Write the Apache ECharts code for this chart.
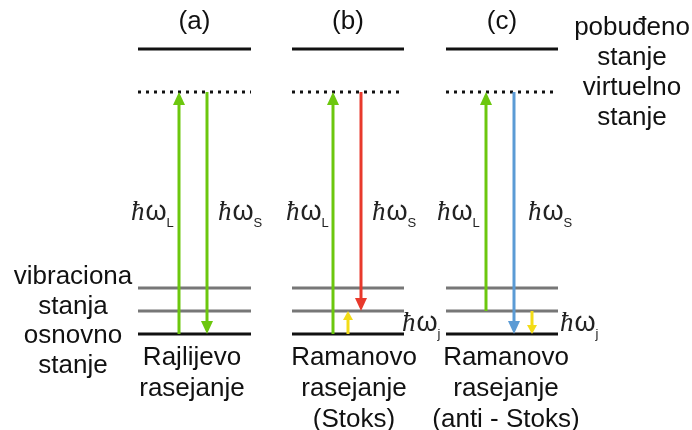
<!DOCTYPE html>
<html><head><meta charset="utf-8">
<script src="https://cdn.jsdelivr.net/npm/echarts@6/dist/echarts.min.js"></script>
<style>html,body{margin:0;padding:0;background:#fff}#c{width:692px;height:430px}</style>
</head><body><div id="c"></div>
<script>
// ---------- data ----------
const panelTitles = ['(a)', '(b)', '(c)'];
const panelCaptions = ['Rajlijevo\nrasejanje', 'Ramanovo\nrasejanje\n(Stoks)', 'Ramanovo\nrasejanje\n(anti - Stoks)'];
const panelStart = [138, 292, 446];
const panelEnd = [251, 404, 558];
const captionX = [192, 354, 506];
// energy levels (diagram units, top = 0)
const levelNames = ['excited', 'virtual', 'vib2', 'vib1', 'ground'];
const levelY = [49, 92, 288, 311, 334];
const levelKind = ['solid', 'dotted', 'gray', 'gray', 'solid'];
// transitions
const arrowX = [179, 207, 333, 361, 348, 486, 514, 532];
const arrowFrom = [334, 92, 334, 92, 334, 311, 92, 311];
const arrowTo = [92, 334, 92, 311, 311, 92, 334, 334];
const arrowColor = ['green', 'green', 'green', 'red', 'yellow', 'green', 'blue', 'yellow'];
const arrowSize = ['big', 'big', 'big', 'big', 'small', 'big', 'big', 'small'];
// photon labels
const photonSub = ['L', 'S', 'L', 'S', 'L', 'S', 'j', 'j'];
const photonX = [131, 218, 286, 372, 437, 528, 402, 560];
const photonY = [211, 211, 211, 211, 211, 211, 322, 322];
// side labels
const rightLabels = ['pobuđeno', 'stanje', 'virtuelno', 'stanje'];
const leftLabels = ['vibraciona', 'stanja', 'osnovno', 'stanje'];

// ---------- styles ----------
const colors = { green: '#6cc70e', red: '#e8392c', yellow: '#f3dc17', blue: '#5b9bd5' };
const FONT = 'Liberation Sans, Arial, sans-serif';

const levelData = [];
panelStart.forEach((x0, p) => {
  levelY.forEach((y, i) => levelData.push([x0, panelEnd[p], y, i]));
});
const arrowData = arrowX.map((x, i) => [x, arrowFrom[i], arrowTo[i], i]);

const textData = [];
panelTitles.forEach((t, p) => textData.push([(panelStart[p] + panelEnd[p]) / 2, 22, t, 'title']));
panelCaptions.forEach((t, p) => textData.push([captionX[p], 342, t, 'caption']));
rightLabels.forEach((t, i) => textData.push([632, 28 + i * 30, t, 'side']));
leftLabels.forEach((t, i) => textData.push([73, 277 + i * 29.5, t, 'side']));

const chart = echarts.init(document.getElementById('c'), null, { renderer: 'canvas' });
chart.setOption({
  animation: false,
  backgroundColor: '#fff',
  grid: { left: 0, right: 0, top: 0, bottom: 0 },
  xAxis: { type: 'value', min: 0, max: 692, show: false },
  yAxis: { type: 'value', min: 0, max: 430, inverse: true, show: false },
  series: [
    {
      type: 'custom', data: levelData, silent: true,
      renderItem: (params, api) => {
        const a = api.coord([api.value(0), api.value(2)]);
        const b = api.coord([api.value(1), api.value(2)]);
        const k = levelKind[api.value(3)];
        const style = k === 'dotted'
          ? { stroke: '#111', lineWidth: 3, lineDash: [3, 5] }
          : { stroke: k === 'gray' ? '#777' : '#111', lineWidth: 3 };
        return { type: 'line', shape: { x1: a[0], y1: a[1], x2: b[0], y2: b[1] }, style };
      }
    },
    {
      type: 'custom', data: arrowData, silent: true, z: 3,
      renderItem: (params, api) => {
        const i = api.value(3);
        const s = api.coord([api.value(0), api.value(1)]);
        const e = api.coord([api.value(0), api.value(2)]);
        const big = arrowSize[i] === 'big';
        const hw = big ? 6 : 5, hl = big ? 13 : 9;
        const dir = e[1] > s[1] ? 1 : -1;
        const baseY = e[1] - dir * hl;
        const c = colors[arrowColor[i]];
        return {
          type: 'group', children: [
            { type: 'line', shape: { x1: s[0], y1: s[1], x2: e[0], y2: baseY + dir * 2 }, style: { stroke: c, lineWidth: 3 } },
            { type: 'polygon', shape: { points: [[e[0], e[1]], [e[0] - hw, baseY], [e[0] + hw, baseY]] }, style: { fill: c } }
          ]
        };
      }
    },
    {
      type: 'custom', data: photonSub.map((s, i) => [photonX[i], photonY[i], s]), silent: true, z: 4,
      renderItem: (params, api) => {
        const p = api.coord([api.value(0), api.value(1)]);
        return {
          type: 'text', x: p[0], y: p[1],
          style: {
            text: '{h|ħ}{w|ω}{s|' + api.value(2) + '}',
            verticalAlign: 'middle', align: 'left',
            rich: {
              h: { fontFamily: 'Liberation Serif, DejaVu Serif, serif', fontStyle: 'italic', fontSize: 27, lineHeight: 30, fill: '#222', verticalAlign: 'bottom' },
              w: { fontFamily: FONT, fontSize: 27, lineHeight: 30, fill: '#222', verticalAlign: 'bottom', padding: [0, 0, 0, 1] },
              s: { fontFamily: FONT, fontSize: 13, lineHeight: 13, fill: '#222', verticalAlign: 'bottom', padding: [0, 0, -4, 0] }
            }
          }
        };
      }
    },
    {
      type: 'custom', data: textData, silent: true, z: 4,
      renderItem: (params, api) => {
        const d = textData[params.dataIndex];
        const p = api.coord([d[0], d[1]]);
        const cap = d[3] === 'caption';
        return {
          type: 'text', x: p[0], y: p[1],
          style: {
            text: d[2], fontFamily: FONT, fontSize: 26, fill: '#111',
            align: 'center', verticalAlign: cap ? 'top' : 'middle', lineHeight: cap ? 31 : 30
          }
        };
      }
    }
  ]
});
</script></body></html>
